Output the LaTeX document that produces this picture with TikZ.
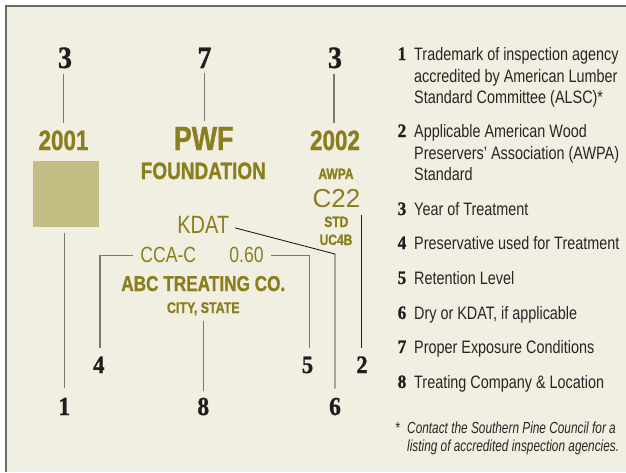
\documentclass[tikz,border=0pt]{standalone}
\usepackage{fontspec}
\newfontfamily\condsans[FakeStretch=0.8, BoldFeatures={FakeBold=1}]{Liberation Sans}
\newfontfamily\footsans[FakeStretch=0.74]{Liberation Sans}
\newfontfamily\plainsans{Liberation Sans}
\newfontfamily\numserif[FakeStretch=0.9, BoldFeatures={FakeBold=1}]{Liberation Serif}
\definecolor{bgc}{HTML}{F1EFE1}
\definecolor{olivetext}{HTML}{8A7F1E}
\definecolor{sqc}{HTML}{C4BD84}
\definecolor{linegray}{HTML}{787878}
\definecolor{framegray}{HTML}{6A6A6A}
\definecolor{numblack}{HTML}{1E1E1E}
\definecolor{legtext}{HTML}{262626}
\newcommand\fsz[1]{\fontsize{#1}{#1}\selectfont}
\tikzset{
  lbl/.style={inner sep=0pt, anchor=base},
  olvb/.style={lbl, text=olivetext, font=\condsans\bfseries\fsz{#1}},
  olvr/.style={lbl, text=olivetext, font=\condsans\fsz{#1}},
  bignum/.style={lbl, text=numblack, font=\numserif\bfseries\fsz{#1}},
  legline/.style={inner sep=0pt, anchor=base west, text=legtext, font=\condsans\fsz{18}},
  legnum/.style={lbl, text=numblack, font=\numserif\bfseries\fsz{19}},
  footline/.style={inner sep=0pt, anchor=base west, text=legtext, font=\footsans\itshape\fsz{16}},
  conn/.style={draw=linegray, line width=1.2pt},
  darkconn/.style={draw=numblack, line width=0.9pt},
}
\begin{document}
\begin{tikzpicture}[x=1pt,y=-1pt]
\useasboundingbox (0,0) rectangle (626,472);
\fill[white] (0,0) rectangle (626,472);
\fill[bgc] (6,6) rectangle (626,472);
\draw[framegray, line width=1.6pt] (6,472) -- (6,5.7) -- (626,5.7);

% top numbers
\node[bignum=31] (n3a) at (65,68) {3};
\node[bignum=31] (n7) at (204.5,68) {7};
\node[bignum=31] (n3b) at (335,68) {3};

% left column
\node[olvb=28] (y2001) at (63.5,150) {2001};
\node[fill=sqc, minimum width=66pt, minimum height=66pt, inner sep=0pt] (sq) at (66,194) {};
\node[bignum=26] (n1) at (64.3,415) {1};

% middle
\node[olvb=33.5] (pwf) at (203.7,150) {PWF};
\node[olvb=23.7] (found) at (203.3,179) {FOUNDATION};
\node[olvr=25] (kdat) at (203.3,233) {KDAT};
\node[olvr=22] (cca) at (168.3,262) {CCA-C};
\node[olvr=22] (ret) at (246.5,262) {0.60};
\node[olvb=21.5] (abc) at (203.3,291) {ABC TREATING CO.};
\node[olvb=15.5] (city) at (203.3,313) {CITY, STATE};
\node[bignum=25] (n4) at (98.8,373) {4};
\node[bignum=25] (n5) at (307.5,373) {5};
\node[bignum=26] (n8) at (203.3,415) {8};

% right column
\node[olvb=28] (y2002) at (335,150) {2002};
\node[olvb=15] (awpa) at (336,179) {AWPA};
\node[lbl, text=olivetext, font=\plainsans\fsz{26}] (c22) at (336.5,207) {C22};
\node[olvb=15] (std) at (336.3,227) {STD};
\node[olvb=15] (uc4b) at (336,245) {UC4B};
\node[bignum=25] (n2) at (362,373) {2};
\node[bignum=26] (n6) at (335,415) {6};
\coordinate (c2t) at (361,215);
\coordinate (c6) at (335,254);

% connectors
\draw[conn, shorten <=5pt, shorten >=7pt] (n3a.south -| y2001.north) -- (y2001.north);
\draw[conn, shorten <=5pt, shorten >=6pt] (n7.south) -- (n7.south |- pwf.north);
\draw[conn, shorten <=5pt, shorten >=7pt] (n3b.south -| 334,0) -- (y2002.north -| 334,0);
\draw[conn, shorten <=6pt, shorten >=10pt] (sq.south -| n1.north) -- (n1.north);
\draw[conn, shorten <=5pt, shorten >=7pt] (city.south -| n8.north) -- (n8.north);
\draw[conn, shorten <=7pt, shorten >=8pt] ([yshift=-1pt]cca.west) -| ([xshift=1.2pt]n4.north);
\draw[conn, shorten <=7.5pt, shorten >=8pt] ([yshift=-1pt]ret.east) -| ([xshift=1.8pt]n5.north);
\draw[darkconn, shorten <=6pt, shorten >=9pt] ([yshift=-2pt]kdat.east) -- (c6) -- (n6.north);
\draw[darkconn, shorten >=8pt] (c2t) -- (c2t |- n2.north);

% legend
\node[legnum] (l1) at (402,60) {1};
\node[legline] (t1a) at (414,60) {Trademark of inspection agency};
\node[legline] (t1b) at (414,82) {accredited by American Lumber};
\node[legline] (t1c) at (414,103) {Standard Committee (ALSC)*};
\node[legnum] (l2) at (402,137) {2};
\node[legline] (t2a) at (414,137) {Applicable American Wood};
\node[legline] (t2b) at (414,159) {Preservers’ Association (AWPA)};
\node[legline] (t2c) at (414,180) {Standard};
\node[legnum] (l3) at (402,215) {3};
\node[legline] (t3) at (414,215) {Year of Treatment};
\node[legnum] (l4) at (402,249) {4};
\node[legline] (t4) at (414,249) {Preservative used for Treatment};
\node[legnum] (l5) at (402,284) {5};
\node[legline] (t5) at (414,284) {Retention Level};
\node[legnum] (l6) at (402,319) {6};
\node[legline] (t6) at (414,319) {Dry or KDAT, if applicable};
\node[legnum] (l7) at (402,353) {7};
\node[legline] (t7) at (414,353) {Proper Exposure Conditions};
\node[legnum] (l8) at (402,388) {8};
\node[legline] (t8) at (414,388) {Treating Company \& Location};
\node[lbl, text=legtext, font=\footsans\fsz{16}] (ast) at (398,433) {*};
\node[footline] (fn1) at (407,433) {Contact the Southern Pine Council for a};
\node[footline] (fn2) at (407,451) {listing of accredited inspection agencies.};
\end{tikzpicture}
\end{document}
